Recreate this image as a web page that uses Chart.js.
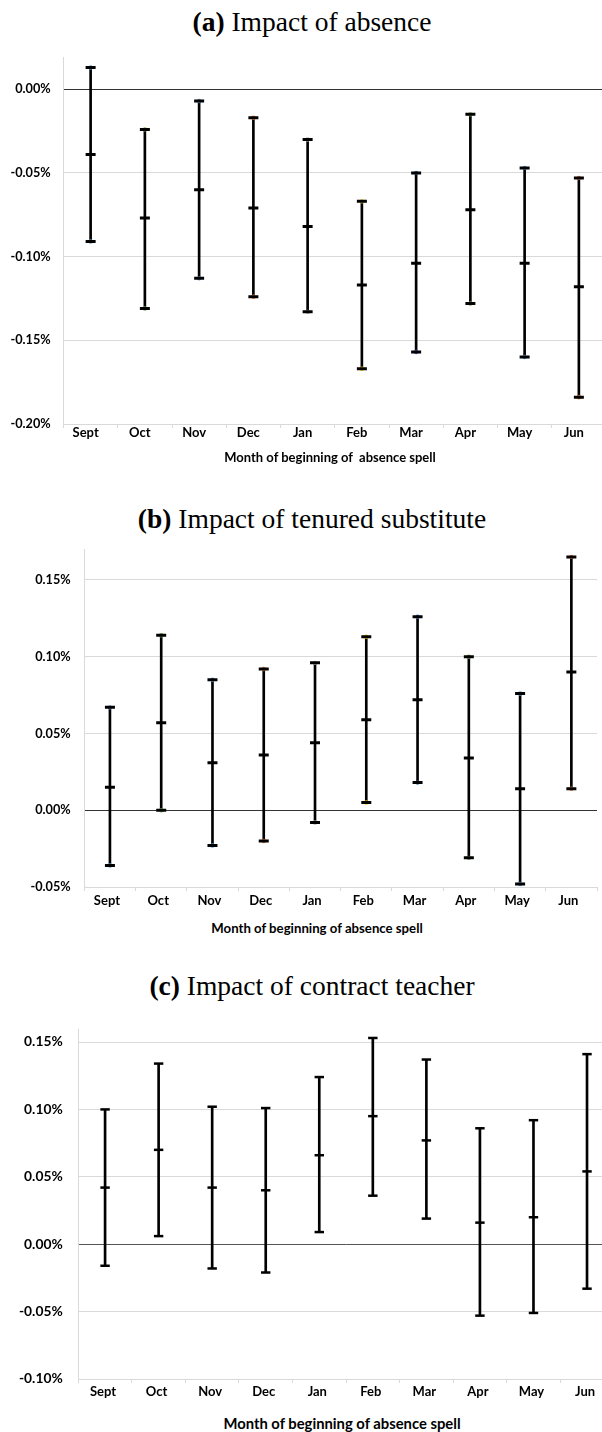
<!DOCTYPE html>
<html>
<head>
<meta charset="utf-8">
<script src="https://cdn.jsdelivr.net/npm/chart.js@4.4.1/dist/chart.umd.min.js"></script>
<style>
  html, body { margin: 0; padding: 0; background: #fff; width: 602px; height: 1432px; overflow: hidden; }
  body { position: relative; }
  .ttl { position: absolute; left: 0; width: 624px; text-align: center; font-family: "Liberation Serif", serif; font-size: 27.5px; line-height: 27.5px; color: #000; white-space: nowrap; }
  .xttl { position: absolute; width: 400px; text-align: center; font-family: Lato, sans-serif; font-weight: bold; color: #000; white-space: pre; }
  canvas { position: absolute; left: 0; }
</style>
</head>
<body>

<div class="ttl" style="top:8px"><b>(a)</b> Impact of absence</div>
<canvas id="chartA" width="614" height="417" style="top:37px"></canvas>
<div class="xttl" style="left:130px; top:450px; font-size:13px; line-height:15px">Month of beginning of  absence spell</div>

<div class="ttl" style="top:505px"><b>(b)</b> Impact of tenured substitute</div>
<canvas id="chartB" width="605" height="389" style="top:528px"></canvas>
<div class="xttl" style="left:117px; top:921px; font-size:13.2px; line-height:15px">Month of beginning of absence spell</div>

<div class="ttl" style="top:972px"><b>(c)</b> Impact of contract teacher</div>
<canvas id="chartC" width="621" height="403" style="top:1006px"></canvas>
<div class="xttl" style="left:142px; top:1415px; font-size:14.8px; line-height:17px">Month of beginning of absence spell</div>

<script>
document.addEventListener("DOMContentLoaded", function () {
    const months = ["Sept", "Oct", "Nov", "Dec", "Jan", "Feb", "Mar", "Apr", "May", "Jun"];

    // (a) impact of absence, in %
    const absenceHigh = [0.013, -0.024, -0.007, -0.017, -0.030, -0.067, -0.050, -0.015, -0.047, -0.053];
    const absenceEst  = [-0.039, -0.077, -0.060, -0.071, -0.082, -0.117, -0.104, -0.072, -0.104, -0.118];
    const absenceLow  = [-0.091, -0.131, -0.113, -0.124, -0.133, -0.167, -0.157, -0.128, -0.160, -0.184];
    const absenceTicks = [-0.20, -0.15, -0.10, -0.05, 0.00];

    // (b) impact of tenured substitute
    const tenuredHigh = [0.067, 0.114, 0.085, 0.092, 0.096, 0.113, 0.126, 0.100, 0.076, 0.165];
    const tenuredEst  = [0.015, 0.057, 0.031, 0.036, 0.044, 0.059, 0.072, 0.034, 0.014, 0.090];
    const tenuredLow  = [-0.036, 0.000, -0.023, -0.020, -0.008, 0.005, 0.018, -0.031, -0.048, 0.014];
    const tenuredTicks = [-0.05, 0.00, 0.05, 0.10, 0.15];

    // (c) impact of contract teacher
    const contractHigh = [0.100, 0.134, 0.102, 0.101, 0.124, 0.153, 0.137, 0.086, 0.092, 0.141];
    const contractEst  = [0.042, 0.070, 0.042, 0.040, 0.066, 0.095, 0.077, 0.016, 0.020, 0.054];
    const contractLow  = [-0.016, 0.006, -0.018, -0.021, 0.009, 0.036, 0.019, -0.053, -0.051, -0.033];
    const contractTicks = [-0.10, -0.05, 0.00, 0.05, 0.10, 0.15];

    // little excel markers peeking out under the caps
    const markerColors = ["#5B9BD5", "#70AD47", "#5B9BD5", "#ED7D31", "#A5A5A5", "#FFC000", "#4472C4", "#70AD47", "#5B9BD5", "#ED7D31"];

    function makePanel(canvasId, p) {
        const cap = {
            type: "line",
            showLine: false,
            pointStyle: "line",
            pointRadius: p.capRadius,
            pointHoverRadius: p.capRadius,
            pointBorderWidth: p.capWidth,
            pointBorderColor: "#000",
        };
        const datasets = [
            Object.assign({ label: "Upper", data: p.high }, cap),
            Object.assign({ label: "Estimate", data: p.est }, cap),
            Object.assign({ label: "Lower", data: p.low }, cap),
        ];
        if (p.markers) {
            [p.high, p.low].forEach(function (vals) {
                datasets.push({
                    type: "line",
                    showLine: false,
                    data: vals,
                    pointStyle: "circle",
                    pointRadius: 2.2,
                    pointBorderWidth: 0,
                    pointBackgroundColor: markerColors,
                });
            });
        }
        // vertical whisker between lower and upper bound
        datasets.push({
            type: "bar",
            label: "CI",
            data: p.low.map(function (v, i) { return [v, p.high[i]]; }),
            backgroundColor: "#000",
            barThickness: 2,
        });

        new Chart(document.getElementById(canvasId), {
            type: "bar",
            data: { labels: months, datasets: datasets },
            options: {
                responsive: false,
                animation: false,
                events: [],
                layout: { padding: { top: 20, right: p.padRight, bottom: 0, left: 0 } },
                plugins: { legend: { display: false }, tooltip: { enabled: false } },
                scales: {
                    x: {
                        grid: { drawOnChartArea: false, drawTicks: true, tickLength: 4, color: "#d9d9d9" },
                        border: { color: "#d9d9d9" },
                        ticks: {
                            color: "#000",
                            font: { family: "Lato", weight: "bold", size: 13, lineHeight: 1 },
                            padding: p.xPad,
                            labelOffset: p.xShift,
                            maxRotation: 0,
                            autoSkip: false,
                        },
                        afterFit: function (s) { s.height = 30; },
                    },
                    y: {
                        min: p.min,
                        max: p.max,
                        afterBuildTicks: function (s) {
                            s.ticks = p.ticks.map(function (v) { return { value: v }; });
                        },
                        grid: {
                            drawTicks: false,
                            color: function (c) { return c.tick && Math.abs(c.tick.value) < 1e-9 ? p.zeroColor : "#d9d9d9"; },
                        },
                        border: { color: "#d9d9d9" },
                        ticks: {
                            color: "#000",
                            font: { family: "Lato", weight: "bold", size: p.yFont },
                            padding: p.yPad,
                            callback: function (v) { return (Math.abs(v) < 1e-9 ? 0 : v).toFixed(2) + "%"; },
                        },
                        afterFit: function (s) { s.width = p.left; },
                    },
                },
            },
        });
    }

    makePanel("chartA", {
        high: absenceHigh, est: absenceEst, low: absenceLow, ticks: absenceTicks,
        min: -0.20, max: 0.019, left: 63.5, padRight: 4,
        capRadius: 5, capWidth: 3, markers: true, zeroColor: "#333",
        xPad: -2, xShift: -5, yPad: 12.8, yFont: 12.7,
    });

    makePanel("chartB", {
        high: tenuredHigh, est: tenuredEst, low: tenuredLow, ticks: tenuredTicks,
        min: -0.05, max: 0.17, left: 84.3, padRight: 3.7,
        capRadius: 5, capWidth: 3, markers: true, zeroColor: "#333",
        xPad: 3.8, xShift: -3, yPad: 13.6, yFont: 12.7,
    });

    makePanel("chartC", {
        high: contractHigh, est: contractEst, low: contractLow, ticks: contractTicks,
        min: -0.10, max: 0.159, left: 78.3, padRight: 4.3,
        capRadius: 4.7, capWidth: 2.5, markers: false, zeroColor: "#555",
        xPad: 1.9, xShift: -2, yPad: 15.6, yFont: 13.8,
    });
});
</script>
</body>
</html>
